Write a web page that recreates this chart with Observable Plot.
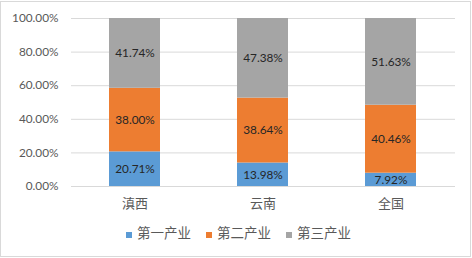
<!DOCTYPE html>
<html>
<head>
<meta charset="utf-8">
<script src="https://cdn.jsdelivr.net/npm/d3@7"></script>
<script src="https://cdn.jsdelivr.net/npm/@observablehq/plot@0.6"></script>
<style>
  body { margin: 0; background: #fff; }
  #wrap { position: relative; width: 472px; height: 258px; overflow: hidden; }
  #frame { position: absolute; left: 0; top: 1px; width: 471px; height: 256px; box-sizing: border-box; border: 1px solid #d9d9d9; }
  #chart { position: absolute; left: 0; top: 0; }
  #legend { position: absolute; left: 126px; top: 224px; display: flex; gap: 15px; align-items: center;
            font-family: "Noto Sans CJK SC", sans-serif; font-size: 13.5px; color: #595959; line-height: 16px; }
  .item { display: flex; align-items: center; gap: 5px; }
  .sw { width: 6px; height: 6px; margin-top: 6px; }
</style>
</head>
<body>
<div id="wrap">
  <div id="frame"></div>
  <div id="chart"></div>
  <div id="legend"></div>
</div>
<script>
const categories = ["滇西", "云南", "全国"];
const series = ["第一产业", "第二产业", "第三产业"];
const primary = [20.71, 13.98, 7.92];
const secondary = [38.00, 38.64, 40.46];
const tertiary = [41.74, 47.38, 51.63];
const colors = ["#5B9BD5", "#ED7D31", "#A5A5A5"];
const yTicks = [0, 0.2, 0.4, 0.6, 0.8, 1];

const valuesBySeries = [primary, secondary, tertiary];
const rows = [];
series.forEach((s, si) => {
  categories.forEach((c, ci) => {
    rows.push({category: c, series: s, value: valuesBySeries[si][ci]});
  });
});

const numFont = "Lato, 'Liberation Sans', sans-serif";

const plot = Plot.plot({
  width: 472,
  height: 220,
  marginLeft: 71,
  marginRight: 17,
  marginTop: 18,
  marginBottom: 34,
  style: {background: "transparent", overflow: "visible"},
  x: {domain: categories, paddingInner: 0.6, paddingOuter: 0.3, label: null},
  y: {domain: [0, 1], label: null},
  color: {domain: series, range: colors},
  marks: [
    Plot.gridY(yTicks, {stroke: "#d9d9d9", strokeOpacity: 1, strokeWidth: 1}),
    Plot.barY(rows, Plot.stackY({offset: "normalize", order: series}, {x: "category", y: "value", fill: "series"})),
    Plot.text(rows, Plot.stackY({offset: "normalize", order: series}, {
      x: "category", y: "value", z: "series",
      text: d => d.value.toFixed(2) + "%",
      fill: "#262626", fontSize: 11.8, fontFamily: numFont
    })),
    Plot.axisY(yTicks, {tickSize: 0, tickPadding: 13, tickFormat: d3.format(".2%"),
      fontSize: 11.8, fontFamily: numFont, fill: "#595959"}),
    Plot.axisX({tickSize: 0, tickPadding: 12, fontSize: 13, fontFamily: "'Noto Sans CJK SC', sans-serif", fill: "#595959"})
  ]
});
document.getElementById("chart").appendChild(plot);

const legend = document.getElementById("legend");
series.forEach((s, i) => {
  const item = document.createElement("div");
  item.className = "item";
  const sw = document.createElement("span");
  sw.className = "sw";
  sw.style.background = colors[i];
  const label = document.createElement("span");
  label.textContent = s;
  item.appendChild(sw);
  item.appendChild(label);
  legend.appendChild(item);
});
</script>
</body>
</html>
